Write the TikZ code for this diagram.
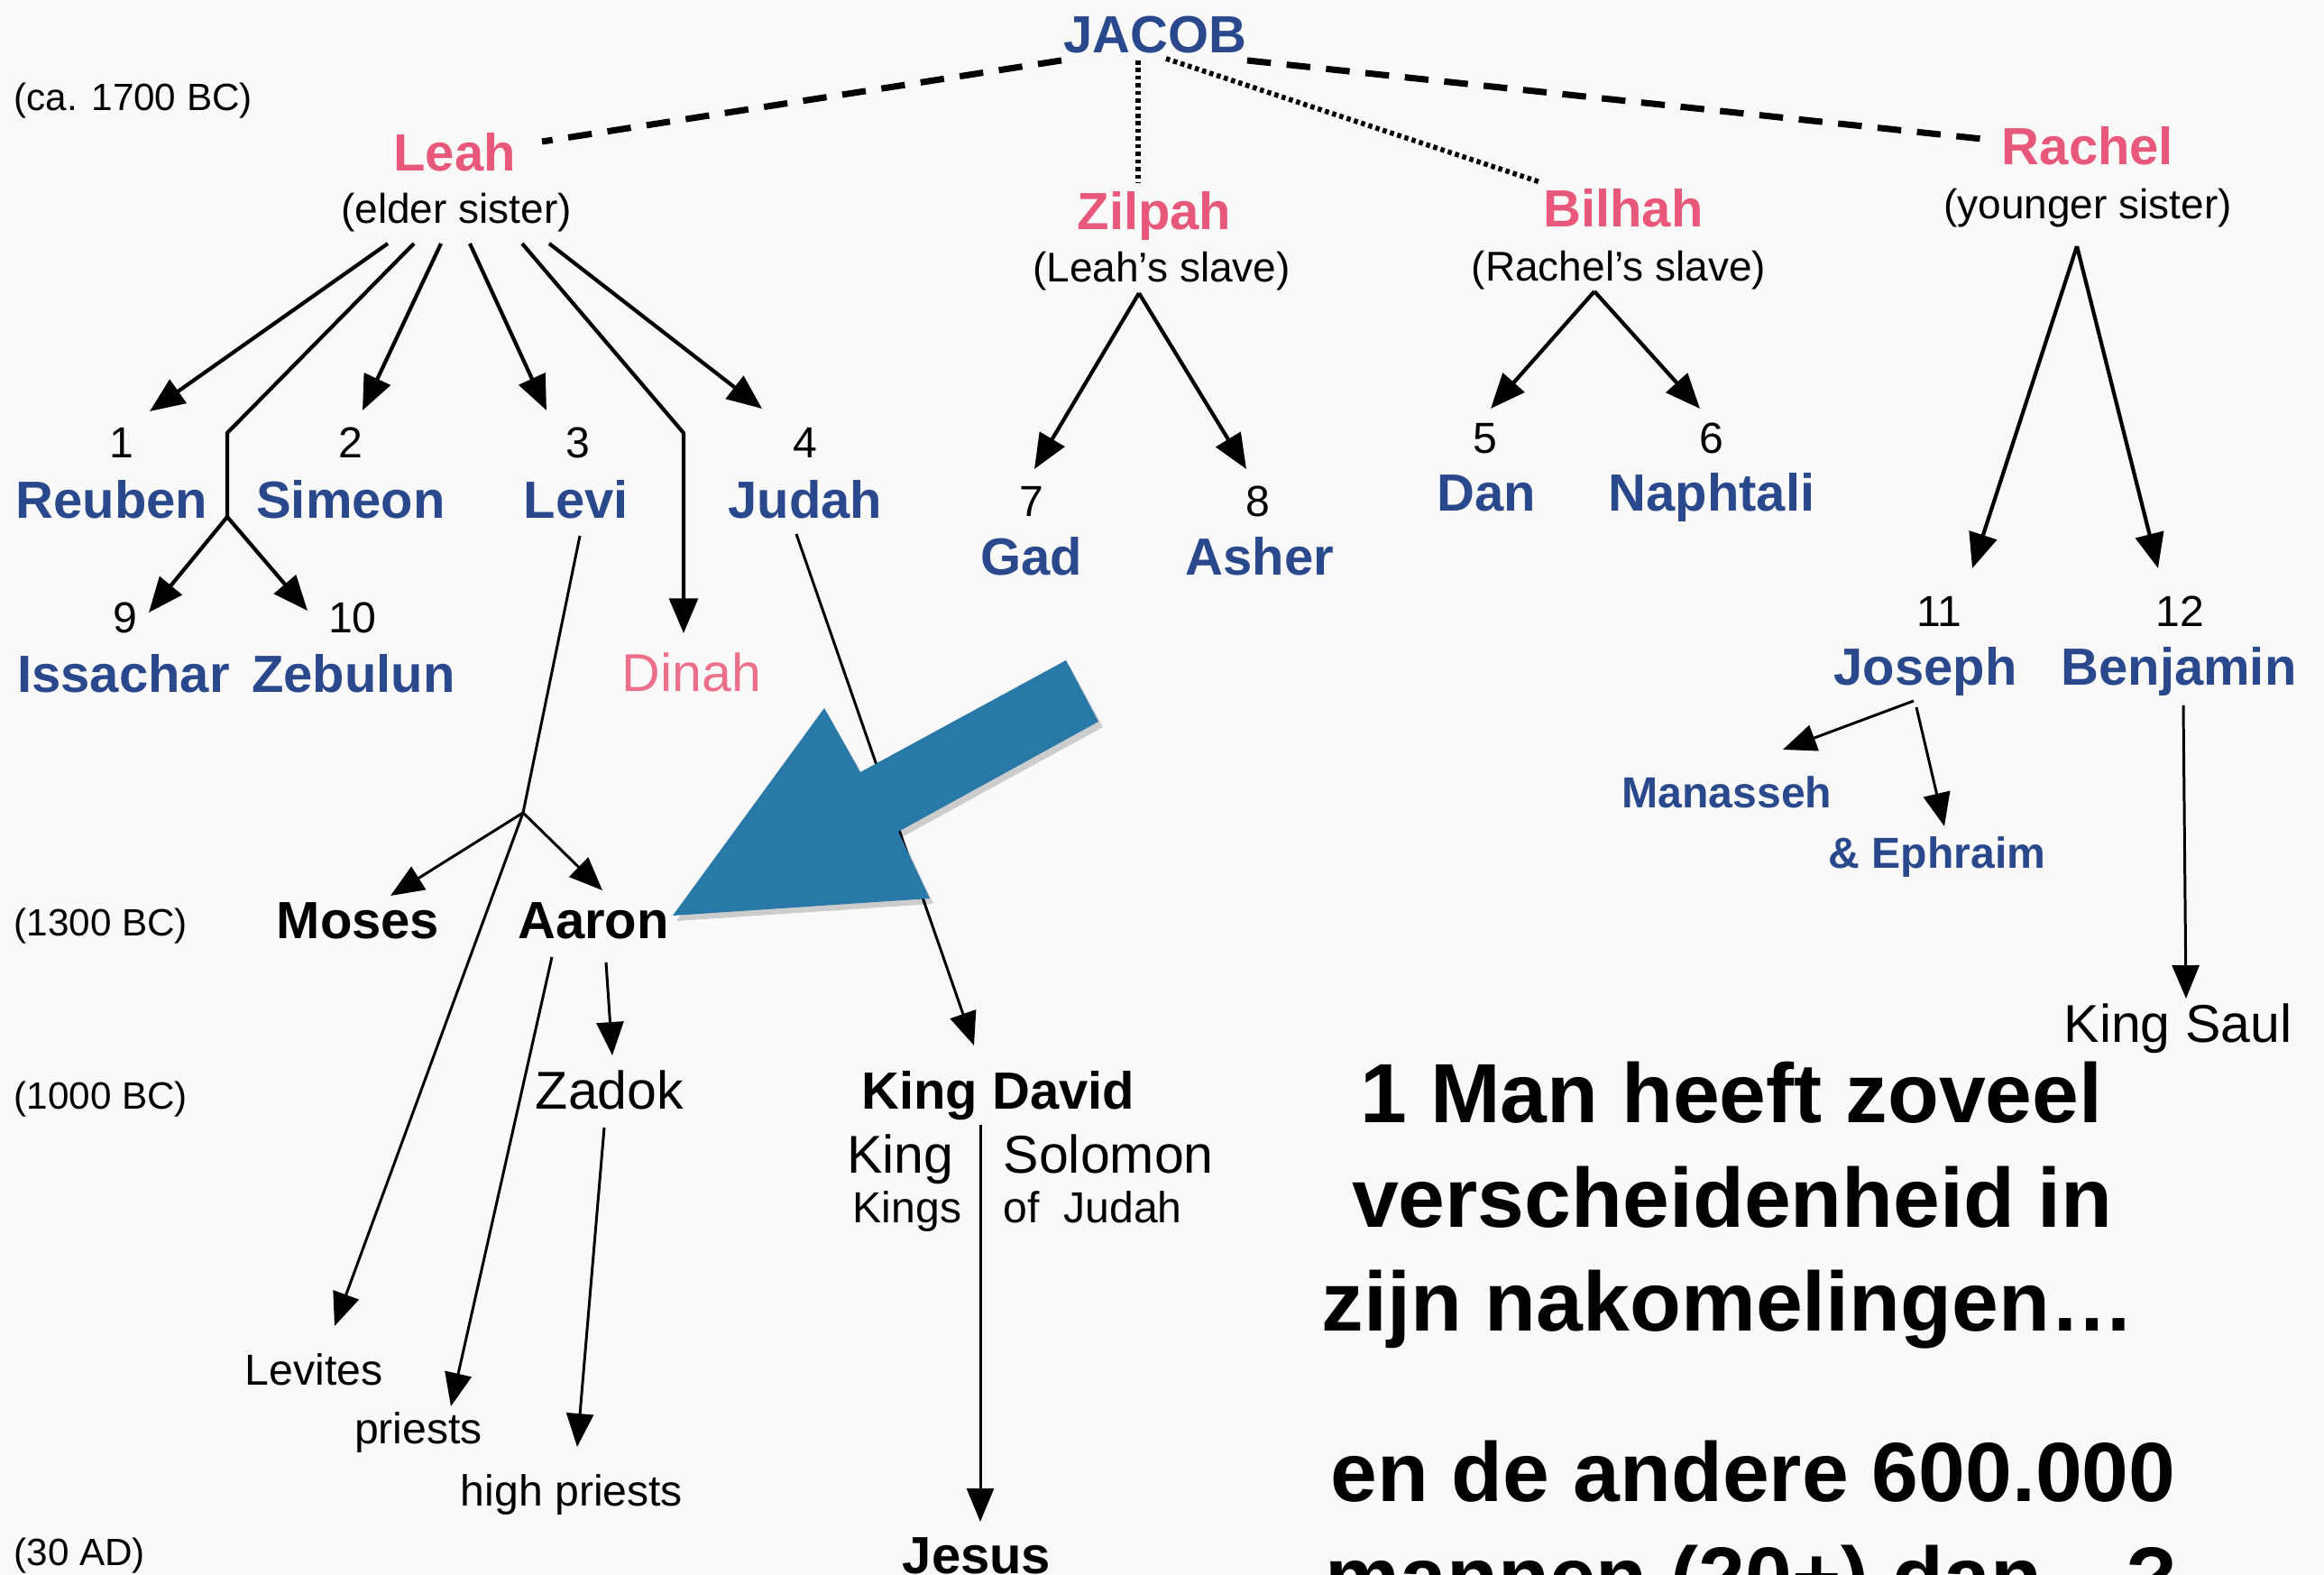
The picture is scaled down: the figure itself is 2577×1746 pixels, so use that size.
\documentclass[tikz,border=0pt]{standalone}
\usepackage{fontspec}
\setmainfont{Liberation Sans}
\usetikzlibrary{arrows.meta}
\definecolor{cNavy}{RGB}{42,72,140}
\definecolor{cPink}{RGB}{232,88,122}
\definecolor{cDinah}{RGB}{236,112,138}
\definecolor{cArrow}{RGB}{40,120,168}
\definecolor{cBg}{RGB}{250,249,250}
\tikzset{
 nm/.style={inner sep=0, font=\fontsize{16.5}{18}\selectfont\bfseries, text=cNavy},
 wife/.style={inner sep=0, font=\fontsize{16.5}{18}\selectfont\bfseries, text=cPink},
 paren/.style={inner sep=0, font=\fontsize{13.1}{15}\selectfont},
 num/.style={inner sep=0, font=\fontsize{13.7}{15}\selectfont},
 datelbl/.style={inner sep=0, font=\fontsize{12}{14}\selectfont},
 bk/.style={inner sep=0, font=\fontsize{16.5}{18}\selectfont\bfseries},
 rg/.style={inner sep=0, font=\fontsize{16.8}{18}\selectfont},
 sm/.style={inner sep=0, font=\fontsize{13.7}{15}\selectfont},
 subnm/.style={inner sep=0, font=\fontsize{13.7}{15}\selectfont\bfseries, text=cNavy},
 bigtxt/.style={inner sep=0, font=\fontsize{26.5}{30}\selectfont\bfseries},
 arr/.style={-{Triangle[length=11pt,width=9pt]}, line width=1.2pt},
 arrl/.style={-{Triangle[length=10.5pt,width=8.5pt]}, line width=0.85pt},
 ln/.style={line width=1.2pt},
 marr/.style={dash pattern=on 7.5pt off 5pt, line width=2pt},
 slv/.style={dash pattern=on 1.3pt off 1.1pt, line width=1.6pt},
}
\begin{document}
\begin{tikzpicture}[x=0.1mm,y=-0.1mm]
\useasboundingbox (0,0) rectangle (2577,1746);
\clip (0,0) rectangle (2577,1746);
\fill[cBg] (0,0) rectangle (2577,1746);

% ---- top generation
\node[nm, anchor=base] (jacob) at (1281,59) {JACOB};
\node[wife, anchor=base] (leah) at (504,190) {Leah};
\node[paren, anchor=base] (leahn) at (506,248) {(elder sister)};
\node[wife, anchor=base] (zilpah) at (1280,255) {Zilpah};
\node[paren, anchor=base] (zilpahn) at (1288,313) {(Leah's slave)};
\node[wife, anchor=base] (bilhah) at (1800,252) {Bilhah};
\node[paren, anchor=base] (bilhahn) at (1795,312) {(Rachel's slave)};
\node[wife, anchor=base] (rachel) at (2315,183) {Rachel};
\node[paren, anchor=base] (racheln) at (2315,243) {(younger sister)};

% dates
\node[datelbl, anchor=base west] (d1700) at (15,123) {(ca. 1700 BC)};
\node[datelbl, anchor=base west] (d1300) at (15,1038) {(1300 BC)};
\node[datelbl, anchor=base west] (d1000) at (15,1230) {(1000 BC)};
\node[datelbl, anchor=base west] (d30) at (15,1736) {(30 AD)};

% marriage lines
\coordinate (jL) at (1177,67); \coordinate (leahE) at (601,157);
\coordinate (jR) at (1383,67); \coordinate (rachelW) at (2207,155);
\coordinate (jZ) at (1262,67); \coordinate (zilpahN) at (1262,202);
\coordinate (jB) at (1293,65); \coordinate (bilhahN) at (1708,202);
\draw[marr] (jL) -- (leahE);
\draw[marr] (jR) -- (rachelW);
\draw[slv] (jZ) -- (zilpahN);
\draw[slv] (jB) -- (bilhahN);

% ---- sons of Leah
\node[num, anchor=base] (n1) at (135,508) {1};
\node[nm, anchor=base] (reuben) at (124,575) {Reuben};
\node[num, anchor=base] (n2) at (389,508) {2};
\node[nm, anchor=base] (simeon) at (389,575) {Simeon};
\node[num, anchor=base] (n3) at (641,508) {3};
\node[nm, anchor=base] (levi) at (639,575) {Levi};
\node[num, anchor=base] (n4) at (893,508) {4};
\node[nm, anchor=base] (judah) at (893,575) {Judah};
\node[num, anchor=base] (n9) at (139,702) {9};
\node[nm, anchor=base] (issachar) at (137,768) {Issachar};
\node[num, anchor=base] (n10) at (391,702) {10};
\node[nm, anchor=base] (zebulun) at (392,768) {Zebulun};
\node[rg, anchor=base, text=cDinah] (dinah) at (767,767) {Dinah};

\coordinate (la) at (430,270); \coordinate (ta) at (166,456);
\coordinate (lb) at (459,270); \coordinate (bb) at (252,480); \coordinate (sb) at (252,573);
\coordinate (t9) at (165,679); \coordinate (t10) at (341,677);
\coordinate (lc) at (489,270); \coordinate (tc) at (402,455);
\coordinate (ld) at (521,270); \coordinate (td) at (606,455);
\coordinate (le) at (579,270); \coordinate (be) at (758,480); \coordinate (te) at (758,702);
\coordinate (lf) at (609,270); \coordinate (tf) at (845,453);
\draw[arr] (la) -- (ta);
\draw[ln] (lb) -- (bb) -- (sb);
\draw[arr] (sb) -- (t9);
\draw[arr] (sb) -- (t10);
\draw[arr] (lc) -- (tc);
\draw[arr] (ld) -- (td);
\draw[arr] (le) -- (be) -- (te);
\draw[arr] (lf) -- (tf);

% ---- sons of Zilpah
\node[num, anchor=base] (n7) at (1144,573) {7};
\node[nm, anchor=base] (gad) at (1144,638) {Gad};
\node[num, anchor=base] (n8) at (1395,573) {8};
\node[nm, anchor=base] (asher) at (1397,638) {Asher};
\coordinate (za) at (1263,325);
\coordinate (t7) at (1147,520); \coordinate (t8) at (1382,520);
\draw[arr] (za) -- (t7);
\draw[arr] (za) -- (t8);

% ---- sons of Bilhah
\node[num, anchor=base] (n5) at (1647,503) {5};
\node[nm, anchor=base] (dan) at (1648,567) {Dan};
\node[num, anchor=base] (n6) at (1898,503) {6};
\node[nm, anchor=base] (naphtali) at (1898,567) {Naphtali};
\coordinate (ba) at (1768,323);
\coordinate (t5) at (1653,453); \coordinate (t6) at (1885,453);
\draw[arr] (ba) -- (t5);
\draw[arr] (ba) -- (t6);

% ---- sons of Rachel
\node[num, anchor=base] (n11) at (2150,695) {11};
\node[nm, anchor=base] (joseph) at (2135,760) {Joseph};
\node[num, anchor=base] (n12) at (2417,695) {12};
\node[nm, anchor=base] (benjamin) at (2416,760) {Benjamin};
\node[subnm, anchor=base] (manasseh) at (1915,896) {Manasseh};
\node[subnm, anchor=base] (ephraim) at (2148,963) {\& Ephraim};
\node[rg, anchor=base] (saul) at (2415,1156) {King Saul};
\coordinate (ra) at (2303,273);
\coordinate (t11) at (2187,630); \coordinate (t12) at (2393,630);
\draw[arr] (ra) -- (t11);
\draw[arr] (ra) -- (t12);
\coordinate (jo1) at (2122,777); \coordinate (tman) at (1977,831);
\coordinate (jo2) at (2125,784); \coordinate (teph) at (2156,916);
\draw[arrl] (jo1) -- (tman);
\draw[arrl] (jo2) -- (teph);
\coordinate (be1) at (2421,782); \coordinate (tsaul) at (2424,1107);
\draw[arrl] (be1) -- (tsaul);

% ---- Levi line
\node[bk, anchor=base] (moses) at (397,1041) {Moses};
\node[bk, anchor=base] (aaron) at (658,1041) {Aaron};
\node[rg, anchor=base] (zadok) at (676,1230) {Zadok};
\node[sm, anchor=base] (levites) at (348,1536) {Levites};
\node[sm, anchor=base] (priests) at (464,1601) {priests};
\node[sm, anchor=base] (hpriests) at (634,1670) {high priests};
\coordinate (lv) at (643,594); \coordinate (sp) at (580,901);
\coordinate (tlev) at (371,1470);
\coordinate (tmos) at (433,993); \coordinate (taar) at (668,987);
\coordinate (aa1) at (612,1061); \coordinate (tpr) at (500,1559);
\coordinate (aa2) at (672,1067); \coordinate (tzad) at (679,1170);
\coordinate (za1) at (670,1250); \coordinate (thp) at (640,1604);
\draw[arrl] (lv) -- (sp) -- (tlev);
\draw[arrl] (sp) -- (tmos);
\draw[arrl] (sp) -- (taar);
\draw[arrl] (aa1) -- (tpr);
\draw[arrl] (aa2) -- (tzad);
\draw[arrl] (za1) -- (thp);

% ---- Judah line
\node[bk, anchor=base] (david) at (1107,1230) {King David};
\node[rg, anchor=base east] (king) at (1058,1301) {King};
\node[rg, anchor=base west] (solomon) at (1112,1301) {Solomon};
\node[sm, anchor=base east] (kings) at (1067,1356) {Kings};
\node[sm, anchor=base west] (ofjudah) at (1112,1356) {of\ \ Judah};
\node[bk, anchor=base] (jesus) at (1083,1745) {Jesus};
\coordinate (ju1) at (883,592); \coordinate (tdav) at (1080,1159);
\coordinate (da1) at (1087,1247); \coordinate (tjes) at (1087,1687);
\draw[arrl] (ju1) -- (tdav);
\draw[arrl] (da1) -- (tjes);

% ---- big blue arrow
\fill[black, opacity=0.18] (750,1021) -- (918,791) -- (958,862) -- (1186,738) -- (1223,806) -- (1000,928) -- (1035,1002) -- cycle;
\fill[cArrow] (746,1015) -- (914,785) -- (954,856) -- (1182,732) -- (1218,800) -- (996,922) -- (1031,996) -- cycle;

% ---- statement
\node[bigtxt, anchor=base] (s1) at (1920,1245) {1 Man heeft zoveel};
\node[bigtxt, anchor=base] (s2) at (1921,1361) {verscheidenheid in};
\node[bigtxt, anchor=base] (s3) at (1916,1476) {zijn nakomelingen…};
\node[bigtxt, anchor=base] (s4) at (1944,1665) {en de andere 600.000};
\node[bigtxt, anchor=base] (s5) at (1942,1781) {mannen (20+) dan…?};
\end{tikzpicture}
\end{document}
